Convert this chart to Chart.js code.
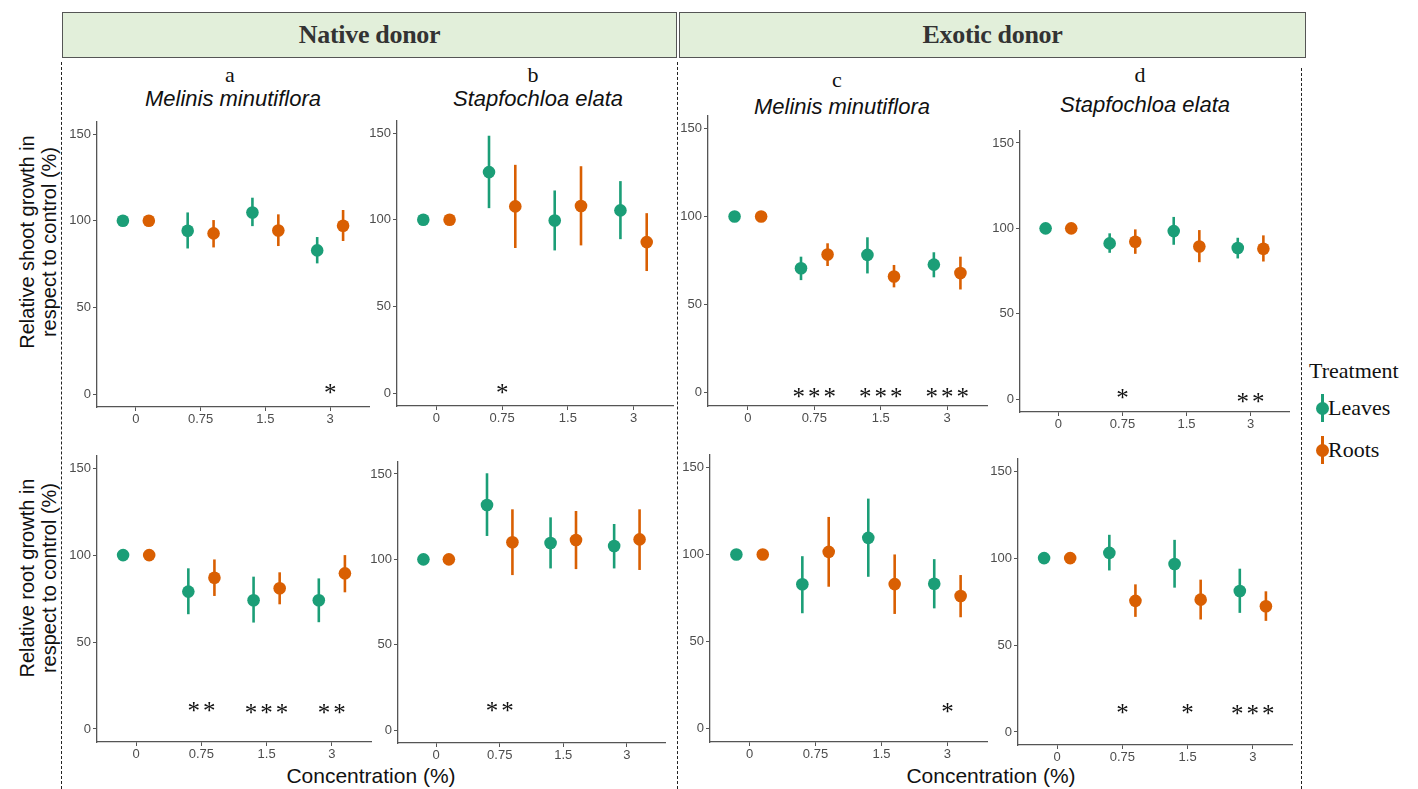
<!DOCTYPE html>
<html>
<head>
<meta charset="utf-8">
<script src="https://cdn.jsdelivr.net/npm/chart.js@4.4.1/dist/chart.umd.min.js"></script>
<style>
  body { margin: 0; background: #fff; }
  #fig { position: relative; width: 1418px; height: 789px; overflow: hidden; background: #fff;
         font-family: "Liberation Sans", Arial, sans-serif; color: #111; }
  .box { position: absolute; top: 12px; height: 44px; background: #e2efda; border: 1.5px solid #555;
         font: bold 26px "Liberation Serif", serif; color: #333; display: flex;
         align-items: center; justify-content: center; letter-spacing: -0.3px; }
  .dash { position: absolute; width: 0; border-left: 1.5px dashed #222; bottom: 0; }
  .lbl { position: absolute; transform: translate(-50%, -50%); white-space: nowrap; }
  .letter { font: 22px "Liberation Serif", serif; }
  .species { font: italic 22px "Liberation Sans", Arial, sans-serif; }
  .ytitle { position: absolute; transform: translate(-50%, -50%) rotate(-90deg); text-align: center;
            font: 20px "Liberation Sans", Arial, sans-serif; line-height: 22px; white-space: nowrap; }
  .xtitle { font: 21px "Liberation Sans", Arial, sans-serif; }
  .legend { position: absolute; font: 22px "Liberation Serif", serif; white-space: nowrap; }
  .key-line { position: absolute; width: 3px; height: 28px; }
  .key-dot { position: absolute; width: 13px; height: 13px; border-radius: 50%; }
  canvas { position: absolute; }
</style>
</head>
<body>
<div id="fig">
  <div class="box" style="left:62px; width:613px;">Native donor</div>
  <div class="box" style="left:679px; width:625px;">Exotic donor</div>

  <div class="dash" style="left:61px; top:62px;"></div>
  <div class="dash" style="left:677px; top:62px;"></div>
  <div class="dash" style="left:1301px; top:68px;"></div>

  <div class="lbl letter" style="left:230px; top:75px;">a</div>
  <div class="lbl letter" style="left:533px; top:75px;">b</div>
  <div class="lbl letter" style="left:837px; top:80px;">c</div>
  <div class="lbl letter" style="left:1140px; top:75px;">d</div>
  <div class="lbl species" style="left:233px; top:99px;">Melinis minutiflora</div>
  <div class="lbl species" style="left:538px; top:99px;">Stapfochloa elata</div>
  <div class="lbl species" style="left:842px; top:107px;">Melinis minutiflora</div>
  <div class="lbl species" style="left:1145px; top:105px;">Stapfochloa elata</div>

  <div class="ytitle" style="left:38px; top:242px;">Relative shoot growth in<br>respect to control (%)</div>
  <div class="ytitle" style="left:38px; top:578px;">Relative root growth in<br>respect to control (%)</div>

  <div class="lbl xtitle" style="left:371px; top:776px;">Concentration (%)</div>
  <div class="lbl xtitle" style="left:991px; top:776px;">Concentration (%)</div>

  <div class="legend" style="left:1309px; top:358px;">Treatment</div>
  <div class="key-line" style="left:1320.5px; top:394px; background:#1b9e77;"></div>
  <div class="key-dot" style="left:1315.5px; top:401.5px; background:#1b9e77;"></div>
  <div class="legend" style="left:1328px; top:395px;">Leaves</div>
  <div class="key-line" style="left:1320.5px; top:436px; background:#d95f02;"></div>
  <div class="key-dot" style="left:1315.5px; top:443.5px; background:#d95f02;"></div>
  <div class="legend" style="left:1328px; top:437px;">Roots</div>
</div>

<script>
// ---- data ----
const concentrations = ["0", "0.75", "1.5", "3"];
const yTicks = [0, 50, 100, 150];

// a: shoot, native donor, Melinis minutiflora
const aLeavesMean = [100, 94.2, 104.8, 82.9];
const aLeavesLow  = [100, 84.0, 96.9, 75.4];
const aLeavesHigh = [100, 104.8, 113.3, 90.6];
const aRootsMean  = [100, 92.7, 94.4, 97.1];
const aRootsLow   = [100, 84.6, 85.4, 88.3];
const aRootsHigh  = [100, 100.4, 103.7, 106.2];
const aStars = [["3", "*", 3]];

// b: shoot, native donor, Stapfochloa elata
const bLeavesMean = [100, 127.5, 99.6, 105.4];
const bLeavesLow  = [100, 106.7, 82.3, 88.8];
const bLeavesHigh = [100, 148.5, 116.9, 122.3];
const bRootsMean  = [100, 107.7, 107.9, 87.1];
const bRootsLow   = [100, 83.7, 85.2, 70.4];
const bRootsHigh  = [100, 131.7, 130.9, 103.8];
const bStars = [["0.75", "*", 2.5]];

// c: shoot, exotic donor, Melinis minutiflora
const cLeavesMean = [100, 70.6, 78.2, 72.7];
const cLeavesLow  = [100, 63.9, 67.7, 65.5];
const cLeavesHigh = [100, 77.2, 88.2, 79.7];
const cRootsMean  = [100, 78.4, 66.0, 67.9];
const cRootsLow   = [100, 71.9, 59.8, 58.6];
const cRootsHigh  = [100, 84.8, 72.5, 77.2];
const cStars = [["0.75", "***", 0], ["1.5", "***", 0], ["3", "***", 0]];

// d: shoot, exotic donor, Stapfochloa elata
const dLeavesMean = [100, 91.2, 98.4, 88.5];
const dLeavesLow  = [100, 85.7, 90.4, 82.4];
const dLeavesHigh = [100, 97.1, 106.7, 94.5];
const dRootsMean  = [100, 92.2, 89.4, 88.1];
const dRootsLow   = [100, 85.1, 80.2, 80.6];
const dRootsHigh  = [100, 99.4, 99.0, 95.9];
const dStars = [["0.75", "*", 3.5], ["3", "**", 1]];

// e: root, native donor, Melinis minutiflora
const eLeavesMean = [100, 79.0, 74.0, 74.0];
const eLeavesLow  = [100, 66.0, 61.2, 61.4];
const eLeavesHigh = [100, 92.4, 87.6, 86.6];
const eRootsMean  = [100, 87.0, 80.9, 89.5];
const eRootsLow   = [100, 76.5, 71.7, 78.6];
const eRootsHigh  = [100, 97.5, 90.1, 100.0];
const eStars = [["0.75", "**", 13], ["1.5", "***", 12], ["3", "**", 12]];

// f: root, native donor, Stapfochloa elata
const fLeavesMean = [100, 131.8, 109.6, 107.8];
const fLeavesLow  = [100, 113.7, 94.7, 94.7];
const fLeavesHigh = [100, 150.4, 124.6, 120.7];
const fRootsMean  = [100, 110.0, 111.3, 111.7];
const fRootsLow   = [100, 90.8, 94.3, 93.8];
const fRootsHigh  = [100, 129.3, 128.3, 129.3];
const fStars = [["0.75", "**", 13.7]];

// g: root, exotic donor, Melinis minutiflora
const gLeavesMean = [100, 82.9, 109.5, 83.2];
const gLeavesLow  = [100, 66.3, 87.2, 69.1];
const gLeavesHigh = [100, 99.0, 132.0, 97.3];
const gRootsMean  = [100, 101.5, 83.0, 76.2];
const gRootsLow   = [100, 81.5, 65.9, 64.0];
const gRootsHigh  = [100, 121.5, 100.0, 88.2];
const gStars = [["3", "*", 12]];

// h: root, exotic donor, Stapfochloa elata
const hLeavesMean = [100, 103.0, 96.6, 81.1];
const hLeavesLow  = [100, 92.9, 83.0, 68.5];
const hLeavesHigh = [100, 113.4, 110.5, 93.9];
const hRootsMean  = [100, 75.4, 76.1, 72.3];
const hRootsLow   = [100, 66.2, 64.7, 63.9];
const hRootsHigh  = [100, 84.9, 87.6, 80.9];
const hStars = [["0.75", "*", 13.7], ["1.5", "*", 13.7], ["3", "***", 13]];

// ---- layout ----
const GREEN = "#1b9e77";
const ORANGE = "#d95f02";
const Y_MIN = -7.5, Y_MAX = 157;
const X_MIN = 0.4, X_MAX = 4.6;
const DODGE = 0.2;
const AXW = 40, AXH = 24, PAD_T = 12, PAD_R = 10;

// pixel position of tick "0", tick "3", value 0 and value 150 in each panel
const panels = [
  { x0: 136,  x3: 330,  y0: 394, y150: 134, L: [aLeavesMean, aLeavesLow, aLeavesHigh], R: [aRootsMean, aRootsLow, aRootsHigh], stars: aStars },
  { x0: 436,  x3: 633,  y0: 393, y150: 133, L: [bLeavesMean, bLeavesLow, bLeavesHigh], R: [bRootsMean, bRootsLow, bRootsHigh], stars: bStars },
  { x0: 748,  x3: 947,  y0: 392, y150: 128, L: [cLeavesMean, cLeavesLow, cLeavesHigh], R: [cRootsMean, cRootsLow, cRootsHigh], stars: cStars },
  { x0: 1058, x3: 1250, y0: 399, y150: 143, L: [dLeavesMean, dLeavesLow, dLeavesHigh], R: [dRootsMean, dRootsLow, dRootsHigh], stars: dStars },
  { x0: 136,  x3: 332,  y0: 729, y150: 468, L: [eLeavesMean, eLeavesLow, eLeavesHigh], R: [eRootsMean, eRootsLow, eRootsHigh], stars: eStars },
  { x0: 436,  x3: 627,  y0: 730, y150: 474, L: [fLeavesMean, fLeavesLow, fLeavesHigh], R: [fRootsMean, fRootsLow, fRootsHigh], stars: fStars },
  { x0: 750,  x3: 948,  y0: 729, y150: 467, L: [gLeavesMean, gLeavesLow, gLeavesHigh], R: [gRootsMean, gRootsLow, gRootsHigh], stars: gStars },
  { x0: 1057, x3: 1253, y0: 732, y150: 471, L: [hLeavesMean, hLeavesLow, hLeavesHigh], R: [hRootsMean, hRootsLow, hRootsHigh], stars: hStars }
];

// vertical error bars behind the points
const errorBars = {
  id: "errorBars",
  beforeDatasetsDraw(chart) {
    const { ctx, scales: { x, y } } = chart;
    chart.data.datasets.forEach(ds => {
      ctx.save();
      ctx.strokeStyle = ds.borderColor;
      ctx.lineWidth = 2.6;
      ds.data.forEach((pt, i) => {
        if (ds.low[i] === ds.high[i]) return;
        const px = x.getPixelForValue(pt.x);
        ctx.beginPath();
        ctx.moveTo(px, y.getPixelForValue(ds.low[i]));
        ctx.lineTo(px, y.getPixelForValue(ds.high[i]));
        ctx.stroke();
      });
      ctx.restore();
    });
  }
};

// significance asterisks
const starLabels = {
  id: "starLabels",
  afterDatasetsDraw(chart, args, opts) {
    const { ctx, scales: { x, y } } = chart;
    ctx.save();
    ctx.font = '25px "Liberation Serif", serif';
    ctx.fillStyle = "#111";
    ctx.textAlign = "center";
    ctx.textBaseline = "alphabetic";
    ctx.letterSpacing = "3px";
    (opts.items || []).forEach(([cat, text, val]) => {
      const px = x.getPixelForValue(concentrations.indexOf(cat) + 1) + 1.5;
      const py = y.getPixelForValue(val);
      ctx.fillText(text, px, py + 12.5);
    });
    ctx.restore();
  }
};

function series(label, vals, color, shift) {
  return {
    label,
    data: vals[0].map((v, i) => ({ x: i + 1 + shift, y: v })),
    low: vals[1],
    high: vals[2],
    backgroundColor: color,
    borderColor: color,
    pointRadius: 6.3,
    pointBorderWidth: 0,
    pointHoverRadius: 6.3
  };
}

const tickFont = { size: 13, family: '"Liberation Sans", Arial, sans-serif' };
const fig = document.getElementById("fig");

panels.forEach(p => {
  const u = (p.x3 - p.x0) / 3;
  const areaLeft = p.x0 - (1 - X_MIN) * u;
  const areaRight = p.x3 + (X_MAX - 4) * u;
  const ppu = (p.y0 - p.y150) / 150;
  const areaTop = p.y150 - (Y_MAX - 150) * ppu;
  const areaBottom = p.y0 - Y_MIN * ppu;

  const w = Math.round(AXW + (areaRight - areaLeft) + PAD_R);
  const h = Math.round(PAD_T + (areaBottom - areaTop) + AXH);
  const canvas = document.createElement("canvas");
  canvas.width = w;
  canvas.height = h;
  canvas.style.width = w + "px";
  canvas.style.height = h + "px";
  canvas.style.left = Math.round(areaLeft - AXW) + "px";
  canvas.style.top = Math.round(areaTop - PAD_T) + "px";
  fig.appendChild(canvas);

  new Chart(canvas, {
    type: "scatter",
    data: {
      datasets: [
        series("Leaves", p.L, GREEN, -DODGE),
        series("Roots", p.R, ORANGE, DODGE)
      ]
    },
    options: {
      responsive: false,
      animation: false,
      layout: { padding: { top: PAD_T, right: PAD_R, left: 0, bottom: 0 } },
      plugins: {
        legend: { display: false },
        tooltip: { enabled: false },
        starLabels: { items: p.stars }
      },
      scales: {
        x: {
          type: "linear",
          min: X_MIN,
          max: X_MAX,
          afterBuildTicks: s => { s.ticks = concentrations.map((c, i) => ({ value: i + 1 })); },
          afterFit: s => { s.height = AXH; },
          ticks: {
            autoSkip: false,
            maxRotation: 0,
            color: "#4d4d4d",
            font: tickFont,
            padding: 1,
            callback: (v, i) => concentrations[i]
          },
          grid: { display: true, drawOnChartArea: false, drawTicks: true, tickLength: 4, color: "#555" },
          border: { display: true, color: "#555", width: 1.3 }
        },
        y: {
          type: "linear",
          min: Y_MIN,
          max: Y_MAX,
          afterBuildTicks: s => { s.ticks = yTicks.map(v => ({ value: v })); },
          afterFit: s => { s.width = AXW; },
          ticks: { color: "#4d4d4d", font: tickFont, padding: 2 },
          grid: { display: true, drawOnChartArea: false, drawTicks: true, tickLength: 4, color: "#555" },
          border: { display: true, color: "#555", width: 1.3 }
        }
      }
    },
    plugins: [errorBars, starLabels]
  });
});
</script>
</body>
</html>
